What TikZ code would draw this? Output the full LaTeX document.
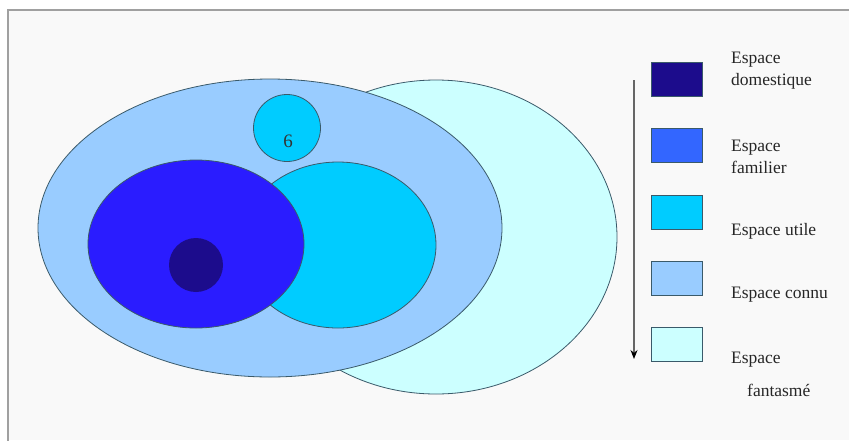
\documentclass[tikz,border=0pt]{standalone}
\usepackage{fontspec}
\setmainfont{Liberation Serif}
\usetikzlibrary{arrows.meta,shapes.geometric}
\definecolor{cfant}{HTML}{CCFFFF}
\definecolor{cconnu}{HTML}{99CCFF}
\definecolor{cutile}{HTML}{00CCFF}
\definecolor{cfam}{HTML}{2A1CFF}
\definecolor{cfamleg}{HTML}{3366FF}
\definecolor{cdom}{HTML}{1C0C8C}
\definecolor{cbg}{HTML}{F9F9F9}
\definecolor{cframe}{HTML}{A0A0A0}
\definecolor{cedge}{HTML}{3A5A6A}
\tikzset{
  zone/.style={draw=cedge, line width=0.8pt, ellipse, inner sep=0pt},
  legbox/.style={draw=cedge, line width=0.9pt, minimum width=51pt, minimum height=34pt, inner sep=0pt},
  legtext/.style={font=\fontsize{17.5}{22}\selectfont, align=left, anchor=west, inner sep=0pt, text=black!85},
}
\begin{document}
\begin{tikzpicture}[x=1pt,y=-1pt]
\useasboundingbox (0,0) rectangle (849,440);
\fill[white] (0,0) rectangle (849,440);
\fill[cbg] (8,10) rectangle (849,440);
\draw[cframe, line width=2pt] (8,441) -- (8,10) -- (850,10);
% zones
\node[zone, fill=cfant, minimum width=362pt, minimum height=314pt] (fant) at (436,237) {};
\node[zone, fill=cconnu, minimum width=464pt, minimum height=298pt] (connu) at (270,228) {};
\node[zone, fill=cutile, minimum width=196pt, minimum height=166pt] (utile) at (338,245) {};
\node[zone, fill=cfam, minimum width=216pt, minimum height=168pt] (fam) at (196,244) {};
\node[zone, draw=none, fill=cdom, minimum size=54pt] (dom) at (196,265) {};
\node[zone, fill=cutile, minimum size=67pt] (six) at (287,128) {};
\node[font=\fontsize{19}{19}\selectfont, text=black!80] (sixl) at (288,141) {6};
% legend
\node[legbox, fill=cdom] (b1) at (676.5,79) {};
\node[legbox, fill=cfamleg] (b2) at (676.5,145.5) {};
\node[legbox, fill=cutile] (b3) at (676.5,212) {};
\node[legbox, fill=cconnu] (b4) at (676.5,278) {};
\node[legbox, fill=cfant] (b5) at (676.5,344.5) {};
\coordinate (atop) at (634,80);
\coordinate (abot) at (634,359);
\draw[black!60, line width=1.2pt, -{Stealth[length=9pt,width=7pt,black]}] (atop) -- (abot);
\node[legtext] (t1) at (731,71) {Espace\\domestique};
\node[legtext] (t2) at (731,157) {Espace\\familier};
\node[legtext] (t3) at (731,231) {Espace utile};
\node[legtext] (t4) at (731,295) {Espace connu};
\node[legtext] (t5a) at (731,360) {Espace};
\node[legtext] (t5b) at (747,390) {fantasmé};
\end{tikzpicture}
\end{document}
